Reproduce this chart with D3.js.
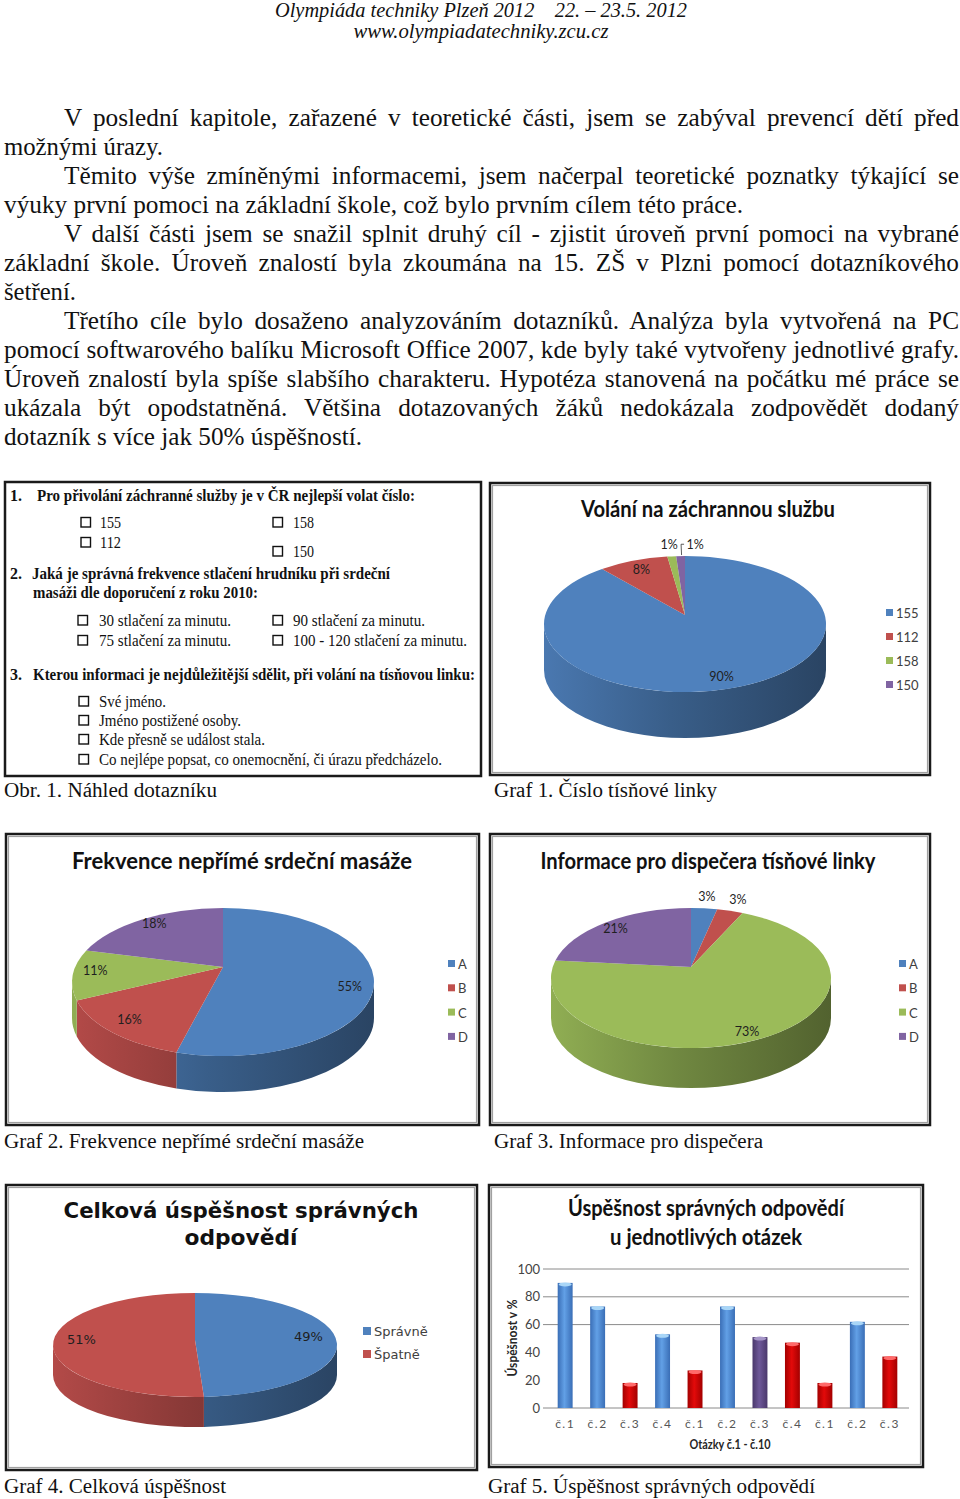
<!DOCTYPE html>
<html>
<head>
<meta charset="utf-8">
<script src="https://cdn.jsdelivr.net/npm/d3@7"></script>
<style>
  body { margin: 0; background: #fff; }
  svg { display: block; }
</style>
</head>
<body>
<svg id="page" width="960" height="1499"></svg>
<script>
// ---- text of the page ----
const headerLines = ['Olympiáda techniky Plzeň 2012\u00a0\u00a0\u00a0 22. – 23.5. 2012', 'www.olympiadatechniky.zcu.cz'];

const bodyLines = [
    'V poslední kapitole, zařazené v teoretické části, jsem se zabýval prevencí dětí před',
    'možnými úrazy.',
    'Těmito výše zmíněnými informacemi, jsem načerpal teoretické poznatky týkající se',
    'výuky první pomoci na základní škole, což bylo prvním cílem této práce.',
    'V další části jsem se snažil splnit druhý cíl - zjistit úroveň první pomoci na vybrané',
    'základní škole. Úroveň znalostí byla zkoumána na 15. ZŠ v Plzni pomocí dotazníkového',
    'šetření.',
    'Třetího cíle bylo dosaženo analyzováním dotazníků. Analýza byla vytvořená na PC',
    'pomocí softwarového balíku Microsoft Office 2007, kde byly také vytvořeny jednotlivé grafy.',
    'Úroveň znalostí byla spíše slabšího charakteru. Hypotéza stanovená na počátku mé práce se',
    'ukázala být opodstatněná. Většina dotazovaných žáků nedokázala zodpovědět dodaný',
    'dotazník s více jak 50% úspěšností.'
];

const questions = [
    'Pro přivolání záchranné služby  je v ČR nejlepší volat číslo:',
    'Jaká je správná frekvence stlačení hrudníku při srdeční',
    'masáži dle doporučení z roku 2010:',
    'Kterou informaci je nejdůležitější sdělit, při volání na tísňovou linku:'
];
const q1Options = ['155', '112', '158', '150'];
const q2Options = ['30 stlačení za minutu.', '75 stlačení za minutu.', '90 stlačení za minutu.', '100 - 120 stlačení za minutu.'];
const q3Options = ['Své jméno.', 'Jméno postižené osoby.', 'Kde přesně se událost stala.', 'Co nejlépe popsat, co onemocnění, či úrazu předcházelo.'];

const captions = [
    'Obr. 1. Náhled dotazníku', 'Graf 1. Číslo tísňové linky',
    'Graf 2. Frekvence nepřímé srdeční masáže', 'Graf 3. Informace pro dispečera',
    'Graf 4. Celková úspěšnost', 'Graf 5. Úspěšnost správných odpovědí'
];

// ---- chart data ----
const callTitle = 'Volání na záchrannou službu';
const callLabels = ['155', '112', '158', '150'];
const callValues = [90, 8, 1, 1];

const freqTitle = 'Frekvence nepřímé srdeční masáže';
const freqLabels = ['A', 'B', 'C', 'D'];
const freqValues = [55, 16, 11, 18];

const infoTitle = 'Informace pro dispečera tísňové linky';
const infoLabels = ['A', 'B', 'C', 'D'];
const infoValues = [3, 3, 73, 21];

const totalTitle = ['Celková úspěšnost správných', 'odpovědí'];
const totalLabels = ['Správně', 'Špatně'];
const totalValues = [49, 51];

const barTitle = ['Úspěšnost správných odpovědí', 'u jednotlivých otázek'];
const questionLabels = ['č.1', 'č.2', 'č.3', 'č.4', 'č.1', 'č.2', 'č.3', 'č.4', 'č.1', 'č.2', 'č.3'];
const questionValues = [90, 73, 18, 53, 27, 73, 51, 47, 18, 62, 37];
const questionGroup = ['blue', 'blue', 'red', 'blue', 'red', 'blue', 'purple', 'red', 'red', 'blue', 'red'];
const yTicks = [0, 20, 40, 60, 80, 100];
const gridValues = [60, 80, 100];
const yTitle = 'Úspěšnost v %';
const xTitle = 'Otázky č.1 - č.10';

// ---- drawing ----
const serif = '"Liberation Serif", "Times New Roman", serif';
const sans = 'Lato, "Open Sans", sans-serif';
const verd = '"DejaVu Sans", Verdana, sans-serif';
const pieColors = ['#4F81BD', '#C0504D', '#9BBB59', '#8064A2'];

const svg = d3.select('#page');
const defs = svg.append('defs');

function fit(sel, w) {
    return sel.attr('textLength', w).attr('lengthAdjust', 'spacingAndGlyphs');
}

function frame(x, y, w, h, plain) {
    svg.append('rect').attr('x', x).attr('y', y).attr('width', w).attr('height', h)
        .attr('fill', '#fff').attr('stroke', '#1a1a1a').attr('stroke-width', 2.5);
    if (plain) return;
    svg.append('rect').attr('x', x + 2.5).attr('y', y + 2.5).attr('width', w - 5).attr('height', h - 5)
        .attr('fill', 'none').attr('stroke', '#a0a0a0').attr('stroke-width', 1.2);
}

// header
headerLines.forEach((s, i) => {
    fit(svg.append('text')
        .attr('x', 481).attr('y', i === 0 ? 17 : 38)
        .attr('text-anchor', 'middle')
        .style('font-family', serif).style('font-style', 'italic').style('font-size', '20px')
        .attr('fill', '#111')
        .text(s), i === 0 ? 412 : 255);
});

// body paragraphs, justified; font size taken from the one free line (no. 4)
const bodyLayout = [[64, 959, 1], [4, 163], [64, 959, 1], [4, 743], [64, 959, 1], [4, 959, 1],
    [4, 76], [64, 959, 1], [4, 959, 1], [4, 959, 1], [4, 959, 1], [4, 362]];
const probe = svg.append('text').style('font-family', serif).style('font-size', '23px').text(bodyLines[3]);
const bodySize = 23 * 739 / probe.node().getComputedTextLength();
probe.remove();
bodyLines.forEach((s, i) => {
    const [x0, x1, just] = bodyLayout[i];
    const t = svg.append('text')
        .attr('x', x0).attr('y', 126 + 29 * i)
        .style('font-family', serif).style('font-size', bodySize + 'px')
        .attr('fill', '#111')
        .text(s);
    const nat = t.node().getComputedTextLength();
    const spaces = (s.match(/ /g) || []).length;
    const target = x1 - x0;
    if (just && nat < target && spaces) {
        t.attr('word-spacing', (target - nat) / spaces);
    } else {
        fit(t, target);
    }
});

// questionnaire
frame(5, 482, 476, 294, true);
const qg = svg.append('g').attr('fill', '#111').style('font-family', serif);
[['1.', 501], ['2.', 579], ['3.', 680]].forEach(([n, y]) => {
    qg.append('text').attr('x', 10).attr('y', y).style('font-size', '16px').style('font-weight', 'bold').text(n);
});
[[37, 501, 378], [32, 579, 358], [33, 598, 225], [33, 680, 442]].forEach(([x, y, w], i) => {
    fit(qg.append('text').attr('x', x).attr('y', y).style('font-size', '16.5px').style('font-weight', 'bold')
        .text(questions[i]), w);
});
const optLayout = [
    [q1Options[0], 81, 100, 528, 21], [q1Options[1], 81, 100, 548, 21],
    [q1Options[2], 273, 293, 528, 21], [q1Options[3], 273, 293, 557, 21],
    [q2Options[0], 78, 99, 626, 132], [q2Options[1], 78, 99, 646, 132],
    [q2Options[2], 273, 293, 626, 132], [q2Options[3], 273, 293, 646, 174],
    [q3Options[0], 79, 99, 707, 67], [q3Options[1], 79, 99, 726, 142],
    [q3Options[2], 79, 99, 745, 166], [q3Options[3], 79, 99, 765, 343]
];
optLayout.forEach(([s, bx, tx, y, w]) => {
    qg.append('rect').attr('x', bx).attr('y', y - 10.5).attr('width', 9.5).attr('height', 9.5)
        .attr('fill', 'none').attr('stroke', '#111').attr('stroke-width', 1.4);
    fit(qg.append('text').attr('x', tx).attr('y', y).style('font-size', '17px').text(s), w);
});

// captions
[[4, 797, 213], [494, 797, 223], [4, 1148, 360], [494, 1148, 269], [4, 1493, 222], [488, 1493, 327]]
    .forEach(([x, y, w], i) => {
        fit(svg.append('text').attr('x', x).attr('y', y)
            .style('font-family', serif).style('font-size', '20px').attr('fill', '#111')
            .text(captions[i]), w);
    });

// 3D pie: top face slices + front side with a left-to-right shading
function pie3d(cfg) {
    const { id, cx, cy, rx, ry, depth, vy, values, labels, colors, k, font, fontSize, labelDy } = cfg;
    const g = svg.append('g');
    const arcs = d3.pie().sort(null).value(d => d)(values);
    const pt = (a, dy = 0) => [cx + rx * Math.sin(a), cy - ry * Math.cos(a) + dy];
    const vx = cx, vyy = cy + vy;

    colors.forEach((c, i) => {
        const lg = defs.append('linearGradient').attr('id', `${id}-side-${i}`)
            .attr('gradientUnits', 'userSpaceOnUse')
            .attr('x1', cx - rx).attr('x2', cx + rx).attr('y1', 0).attr('y2', 0);
        lg.append('stop').attr('offset', 0).attr('stop-color', d3.color(c).darker(0.2));
        lg.append('stop').attr('offset', 0.45).attr('stop-color', d3.color(c).darker(0.9));
        lg.append('stop').attr('offset', 1).attr('stop-color', d3.color(c).darker(1.8));
    });

    arcs.forEach((a, i) => {
        const s = Math.max(a.startAngle, Math.PI / 2), e = Math.min(a.endAngle, 3 * Math.PI / 2);
        if (e <= s) return;
        g.append('path')
            .attr('d', `M${pt(s)}A${rx},${ry} 0 0 1 ${pt(e)}L${pt(e, depth)}A${rx},${ry} 0 0 0 ${pt(s, depth)}Z`)
            .attr('fill', `url(#${id}-side-${i})`);
    });

    arcs.forEach((a, i) => {
        const large = a.endAngle - a.startAngle > Math.PI ? 1 : 0;
        g.append('path')
            .attr('d', `M${vx},${vyy}L${pt(a.startAngle)}A${rx},${ry} 0 ${large} 1 ${pt(a.endAngle)}Z`)
            .attr('fill', colors[i]);
    });

    let lastSmall = -Infinity;
    arcs.forEach((a) => {
        const m = (a.startAngle + a.endAngle) / 2;
        const e = pt(m);
        const small = a.data < 5;
        const kk = small ? 1.2 : k;
        let x = vx + kk * (e[0] - vx);
        const y = vyy + kk * (e[1] - vyy) + (small ? 0 : labelDy);
        if (small && x - lastSmall < 24) {
            x = lastSmall + 26;
            g.append('path')
                .attr('d', `M${e[0] + 1},${e[1] - 1}L${x - 14},${y}L${x - 11},${y}`)
                .attr('fill', 'none').attr('stroke', '#333').attr('stroke-width', 0.8);
        }
        if (small) lastSmall = x;
        g.append('text').attr('x', x).attr('y', y)
            .attr('text-anchor', 'middle').attr('dominant-baseline', 'central')
            .style('font-family', font).style('font-size', fontSize)
            .attr('fill', '#1f1f1f')
            .text(a.data + '%');
    });

    const lgd = g.selectAll('.lg').data(labels).join('g')
        .attr('transform', (d, i) => `translate(${cfg.legendX},${cfg.legendY + i * cfg.legendStep})`);
    lgd.append('rect').attr('x', 0).attr('y', -4).attr('width', cfg.legendBox).attr('height', cfg.legendBox)
        .attr('fill', (d, i) => colors[i]);
    lgd.append('text').attr('x', cfg.legendBox + 3).attr('y', 0).attr('dominant-baseline', 'central')
        .style('font-family', font).style('font-size', cfg.legendFont)
        .attr('fill', '#404040').text(d => d);
}

function title(lines, cx, ys, widths, font, size) {
    lines.forEach((s, i) => {
        fit(svg.append('text').attr('x', cx).attr('y', ys[i]).attr('text-anchor', 'middle')
            .style('font-family', font).style('font-size', size).style('font-weight', 'bold')
            .attr('fill', '#111').text(s), widths[i]);
    });
}

// Graf 1
frame(490, 483, 440, 292);
title([callTitle], 708, [517], [254], sans, '22px');
pie3d({ id: 'p1', cx: 685, cy: 624, rx: 141, ry: 68, depth: 46, vy: -9, values: callValues, labels: callLabels,
    colors: pieColors, k: 0.84, font: sans, fontSize: '12.5px', labelDy: 0,
    legendX: 886, legendY: 613, legendStep: 24, legendBox: 7, legendFont: '13px' });

// Graf 2
frame(6, 834, 473, 291);
title([freqTitle], 242, [869], [340], sans, '22px');
pie3d({ id: 'p2', cx: 223, cy: 982, rx: 151, ry: 74, depth: 36, vy: -15, values: freqValues, labels: freqLabels,
    colors: pieColors, k: 0.85, font: sans, fontSize: '12.5px', labelDy: -3,
    legendX: 448, legendY: 964, legendStep: 24.3, legendBox: 7, legendFont: '13px' });

// Graf 3
frame(490, 834, 440, 291);
title([infoTitle], 708, [869], [335], sans, '22px');
pie3d({ id: 'p3', cx: 691, cy: 978, rx: 140, ry: 70, depth: 40, vy: -11, values: infoValues, labels: infoLabels,
    colors: pieColors, k: 0.88, font: sans, fontSize: '12.5px', labelDy: 0,
    legendX: 899, legendY: 964, legendStep: 24.3, legendBox: 7, legendFont: '13px' });

// Graf 4
frame(6, 1185, 471, 285);
title(totalTitle, 241, [1218, 1245], [355, 113], verd, '21px');
pie3d({ id: 'p4', cx: 195, cy: 1345, rx: 142, ry: 52, depth: 30, vy: -5, values: totalValues, labels: totalLabels,
    colors: pieColors, k: 0.8, font: verd, fontSize: '13px', labelDy: -6,
    legendX: 363, legendY: 1331, legendStep: 23, legendBox: 8, legendFont: '13px' });

// Graf 5
frame(489, 1185, 434, 282);
title(barTitle, 706, [1216, 1245], [276, 192], sans, '22px');

const x = d3.scaleBand().domain(d3.range(questionValues.length)).range([546, 909])
    .paddingInner(0.54).paddingOuter(0.36);
const y = d3.scaleLinear().domain([0, 100]).range([1408, 1269]);

const barColors = {
    blue: { edge: '#3a6eb6', mid: '#62a0e6', cap: '#a9d6f7' },
    red: { edge: '#a30000', mid: '#e30a0a', cap: '#ff6a6a' },
    purple: { edge: '#4a386b', mid: '#6e5899', cap: '#a696c8' }
};
Object.entries(barColors).forEach(([k, c]) => {
    const lg = defs.append('linearGradient').attr('id', 'bar-' + k).attr('x1', 0).attr('x2', 1).attr('y1', 0).attr('y2', 0);
    lg.append('stop').attr('offset', 0).attr('stop-color', c.edge);
    lg.append('stop').attr('offset', 0.45).attr('stop-color', c.mid);
    lg.append('stop').attr('offset', 1).attr('stop-color', c.edge);
});

const bg = svg.append('g');
bg.selectAll('.grid').data(gridValues).join('line')
    .attr('x1', 543).attr('x2', 909).attr('y1', d => y(d)).attr('y2', d => y(d))
    .attr('stroke', '#8a8a8a').attr('stroke-width', 1);
bg.append('line').attr('x1', 543).attr('x2', 909).attr('y1', y(0)).attr('y2', y(0))
    .attr('stroke', '#8a8a8a').attr('stroke-width', 1);

const yAxis = bg.append('g').attr('transform', 'translate(546,0)')
    .call(d3.axisLeft(y).tickValues(yTicks).tickSize(0).tickPadding(6));
yAxis.select('.domain').remove();
yAxis.selectAll('text').style('font-family', sans).style('font-size', '13px').attr('fill', '#444');

const xAxis = bg.append('g').attr('transform', `translate(0,${y(0)})`)
    .call(d3.axisBottom(x).tickFormat(i => questionLabels[i]).tickSize(0).tickPadding(11));
xAxis.select('.domain').remove();
xAxis.selectAll('text').style('font-family', sans).style('font-size', '12px')
    .style('letter-spacing', '1.5px').attr('fill', '#555');

bg.selectAll('.bar').data(questionValues).join('rect')
    .attr('x', (d, i) => x(i)).attr('y', d => y(d))
    .attr('width', x.bandwidth()).attr('height', d => y(0) - y(d))
    .attr('fill', (d, i) => `url(#bar-${questionGroup[i]})`);
bg.selectAll('.cap').data(questionValues).join('ellipse')
    .attr('cx', (d, i) => x(i) + x.bandwidth() / 2).attr('cy', d => y(d) + 1.5)
    .attr('rx', x.bandwidth() / 2 - 1).attr('ry', 2)
    .attr('fill', (d, i) => barColors[questionGroup[i]].cap);

fit(bg.append('text').attr('transform', 'translate(512,1338) rotate(-90)')
    .attr('text-anchor', 'middle').attr('dominant-baseline', 'central')
    .style('font-family', sans).style('font-size', '13px').style('font-weight', 'bold')
    .attr('fill', '#262626').text(yTitle), 77);
fit(bg.append('text').attr('x', 730).attr('y', 1449).attr('text-anchor', 'middle')
    .style('font-family', sans).style('font-size', '13px').style('font-weight', 'bold')
    .attr('fill', '#262626').text(xTitle), 81);
</script>
</body>
</html>
